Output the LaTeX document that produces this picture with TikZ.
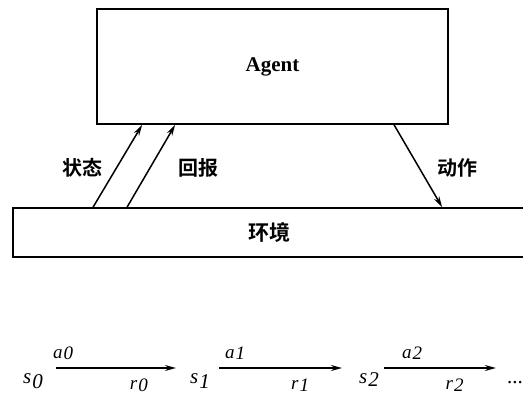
\documentclass[tikz,border=0pt]{standalone}
\usepackage{fontspec}
\setmainfont{Liberation Serif}
\newfontfamily\cjk{Noto Sans CJK SC}[BoldFont={* Bold}]
\usetikzlibrary{arrows.meta,positioning,calc}
% letter with a large, slightly lowered index
\newcommand{\seqsym}[3]{\textit{#1}\kern1pt\raisebox{#3}{\textit{#2}}}

\begin{document}
\begin{tikzpicture}[
        x=1pt, y=-1pt,
        box/.style={rectangle, draw=black, line width=1.8pt, inner sep=0pt},
        flow/.style={-{Stealth[length=11pt,width=6pt]}, line width=1.5pt},
        cn/.style={font=\cjk\bfseries\fontsize{20}{20}\selectfont},
        state/.style={font=\fontsize{21}{21}\selectfont, inner sep=0pt, anchor=base},
        lbl/.style={font=\fontsize{19}{19}\selectfont, inner sep=0pt}
    ]
    \useasboundingbox (0,0) rectangle (523,396);

    % Agent and environment
    \node[box, minimum width=351pt, minimum height=115pt] (agent) at (272.5,66.5)
        {\fontsize{21}{21}\selectfont\bfseries Agent};
    \node[box, minimum width=512pt, minimum height=49pt] (env) at (269,232.5)
        {\cjk\bfseries\fontsize{21}{21}\selectfont 环境};

    % Interaction
    \draw[flow] ($(env.north west)+(81,0)$) -- ($(agent.south west)+(46,0)$);
    \draw[flow] ($(env.north west)+(115,0)$) -- ($(agent.south west)+(79,0)$);
    \draw[flow] ($(agent.south west)+(298,0)$) -- ($(env.north west)+(430,0)$);
    \node[cn] (zt) at (82,168) {状态};
    \node[cn] (hb) at (198,168) {回报};
    \node[cn] (dz) at (457,168) {动作};

    % Sequence
    \node[state] (s0) at (33,383) {\seqsym{s}{0}{-5pt}};
    \node[state] (s1) at (200,383) {\seqsym{s}{1}{-5pt}};
    \node[state] (s2) at (369,383) {\seqsym{s}{2}{-3pt}};
    \node[state] (dots) at (515,383) {...};

    \draw[flow] ($(s0.base east)+(13,-15)$) --
        node[lbl, pos=0.06, above=8pt] {\seqsym{a}{0}{-1pt}}
        node[lbl, pos=0.69, below=10pt] {\seqsym{r}{0}{-2pt}}
        ($(s1.base west)+(-14,-15)$);
    \draw[flow] ($(s1.base east)+(9,-15)$) --
        node[lbl, pos=0.13, above=8pt] {\seqsym{a}{1}{-1pt}}
        node[lbl, pos=0.66, below=10pt] {\seqsym{r}{1}{-2pt}}
        ($(s2.base west)+(-17,-15)$);
    \draw[flow] ($(s2.base east)+(5,-15)$) --
        node[lbl, pos=0.25, above=8pt] {\seqsym{a}{2}{-1pt}}
        node[lbl, pos=0.63, below=10pt] {\seqsym{r}{2}{-2pt}}
        ($(dots.base west)+(-11,-15)$);
\end{tikzpicture}
\end{document}
